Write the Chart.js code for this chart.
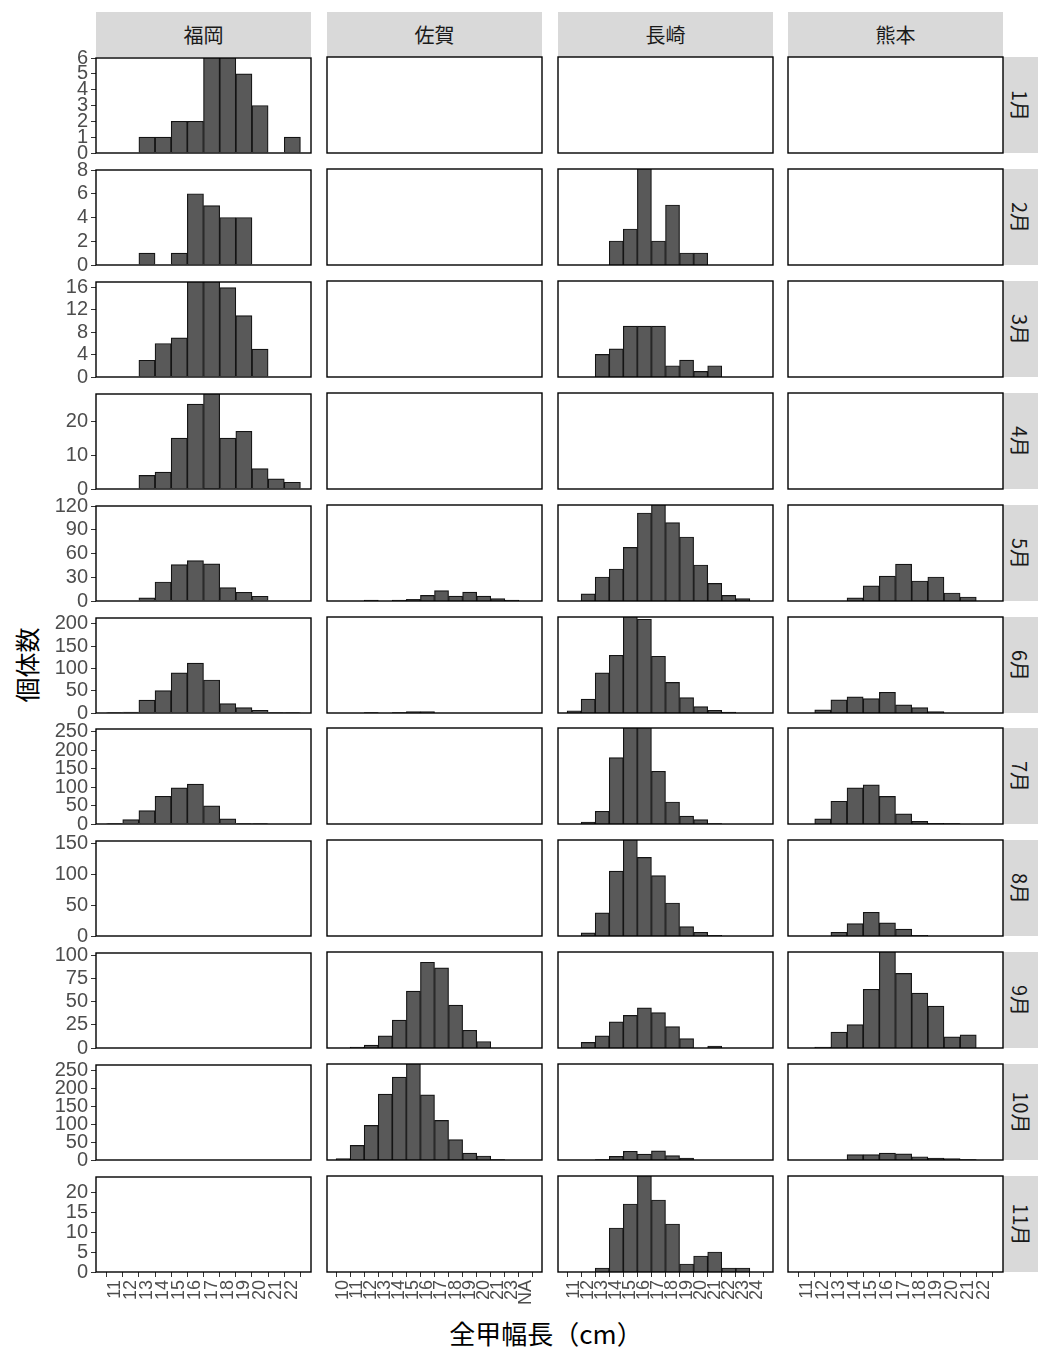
<!DOCTYPE html>
<html lang="ja">
<head>
<meta charset="utf-8">
<title>全甲幅長の月別・県別分布</title>
<script src="https://cdn.jsdelivr.net/npm/chart.js@4.4.1/dist/chart.umd.min.js"></script>
<style>
  html, body { margin: 0; padding: 0; background: #fff; }
  #page { position: relative; width: 1038px; height: 1347px; overflow: hidden;
          font-family: "Noto Sans CJK JP", "Noto Sans", sans-serif; }
  .strip { position: absolute; background: #d9d9d9; color: #1a1a1a; font-size: 20px;
           display: flex; align-items: center; justify-content: center; }
  .strip span { white-space: nowrap; display: inline-block; }
  .strip.right span { transform: rotate(90deg); }
  .title { position: absolute; color: #000; font-size: 26px; white-space: nowrap;
           transform: translate(-50%, -50%); }
  .title.y { font-size: 25px; transform: translate(-50%, -50%) rotate(-90deg); }
  canvas { position: absolute; }
</style>
</head>
<body>
<div id="page"></div>
<script>
// ==========================================
// DATA
// ==========================================
const sites = ['福岡', '佐賀', '長崎', '熊本'];
const months = ['1月', '2月', '3月', '4月', '5月', '6月', '7月', '8月', '9月', '10月', '11月'];

// size classes (x levels) of each prefecture
const fukuokaSizes = ['11', '12', '13', '14', '15', '16', '17', '18', '19', '20', '21', '22'];
const sagaSizes = ['10', '11', '12', '13', '14', '15', '16', '17', '18', '19', '20', '21', '23', 'NA'];
const nagasakiSizes = ['11', '12', '13', '14', '15', '16', '17', '18', '19', '20', '21', '22', '23', '24'];
const kumamotoSizes = ['11', '12', '13', '14', '15', '16', '17', '18', '19', '20', '21', '22'];

// y axis per month row
const yMax = [6, 8, 17, 28, 120, 213, 257, 154, 103, 264, 24];
const yStep = [1, 2, 4, 10, 30, 50, 50, 50, 25, 50, 5];

// counts per month (1月..11月), one value per size class
const fukuokaCounts = [
  [0, 0, 1, 1, 2, 2, 7, 7, 5, 3, 0, 1],
  [0, 0, 1, 0, 1, 6, 5, 4, 4, 0, 0, 0],
  [0, 0, 3, 6, 7, 19, 18, 16, 11, 5, 0, 0],
  [0, 0, 4, 5, 15, 25, 30, 15, 17, 6, 3, 2],
  [0, 0, 4, 24, 46, 51, 47, 17, 11, 6, 0, 0],
  [1, 2, 29, 50, 90, 112, 74, 21, 12, 6, 1, 1],
  [2, 12, 36, 75, 98, 108, 49, 14, 2, 1, 0, 0],
  [], [], [], [],
];
const sagaCounts = [
  [], [], [], [],
  [0, 0, 1, 0, 1, 2, 7, 13, 6, 11, 6, 3, 1, 0],
  [0, 0, 1, 0, 1, 3, 3, 0, 0, 0, 0, 0, 0, 0],
  [], [],
  [0, 1, 3, 13, 30, 61, 92, 86, 46, 19, 7, 0, 0, 0],
  [4, 40, 95, 181, 228, 280, 179, 109, 56, 19, 11, 1, 0, 0],
  [],
];
const nagasakiCounts = [
  [],
  [0, 0, 0, 2, 3, 9, 2, 5, 1, 1, 0, 0, 0, 0],
  [0, 0, 4, 5, 9, 9, 9, 2, 3, 1, 2, 0, 0, 0],
  [],
  [0, 9, 30, 40, 67, 110, 125, 98, 80, 45, 22, 7, 3, 0],
  [5, 31, 89, 128, 230, 208, 126, 68, 34, 14, 6, 2, 0, 0],
  [0, 5, 34, 178, 300, 280, 141, 59, 21, 12, 1, 0, 0, 0],
  [0, 5, 37, 104, 170, 126, 97, 53, 15, 6, 1, 0, 0, 0],
  [0, 6, 13, 28, 35, 43, 38, 23, 10, 0, 2, 0, 0, 0],
  [0, 0, 1, 10, 24, 16, 25, 12, 5, 0, 0, 0, 0, 0],
  [0, 0, 1, 11, 17, 26, 18, 12, 2, 4, 5, 1, 1, 0],
];
const kumamotoCounts = [
  [], [], [], [],
  [0, 0, 0, 4, 19, 31, 46, 25, 30, 10, 5, 0],
  [0, 7, 29, 36, 32, 46, 18, 12, 3, 0, 0, 0],
  [0, 14, 61, 97, 105, 74, 27, 7, 2, 1, 0, 0],
  [0, 0, 6, 20, 38, 21, 11, 1, 0, 0, 0, 0],
  [0, 1, 17, 25, 63, 110, 80, 59, 45, 12, 14, 0],
  [0, 0, 0, 15, 15, 19, 17, 9, 5, 4, 1, 0],
  [],
];

const sizesBySite = [fukuokaSizes, sagaSizes, nagasakiSizes, kumamotoSizes];
const countsBySite = [fukuokaCounts, sagaCounts, nagasakiCounts, kumamotoCounts];

// ==========================================
// LAYOUT
// ==========================================
const colLeft = [96, 327, 558, 788];
const panelW = 215;
const panelH = 96;
const rowTop0 = 57;
const rowPitch = 111.9;
const PL = 60, PR = 30, PT = 14, PB = 70;   // room around each panel for axes

const page = document.getElementById('page');
Chart.defaults.font.family = '"Liberation Sans", Arial, sans-serif';

const panelBorder = {
  id: 'panelBorder',
  afterDatasetsDraw(chart) {
    const { ctx, chartArea: a } = chart;
    ctx.save();
    ctx.strokeStyle = '#000';
    ctx.lineWidth = 1.4;
    ctx.strokeRect(a.left, a.top, a.right - a.left, a.bottom - a.top);
    ctx.restore();
  },
};

function addDiv(cls, text, css) {
  const d = document.createElement('div');
  d.className = cls;
  d.innerHTML = '<span>' + text + '</span>';
  Object.assign(d.style, css);
  page.appendChild(d);
}

// strips
sites.forEach((s, c) => {
  addDiv('strip', s, { left: colLeft[c] + 'px', top: '12px', width: panelW + 'px', height: '45px' });
});
months.forEach((m, r) => {
  const top = Math.round(rowTop0 + rowPitch * r);
  addDiv('strip right', m, { left: (colLeft[3] + panelW) + 'px', top: top + 'px', width: '36px', height: panelH + 'px' });
});

// axis titles
const yt = document.createElement('div');
yt.className = 'title y';
yt.textContent = '個体数';
Object.assign(yt.style, { left: '26px', top: '665px' });
page.appendChild(yt);

const xt = document.createElement('div');
xt.className = 'title';
xt.textContent = '全甲幅長（cm）';
Object.assign(xt.style, { left: '546px', top: '1332px' });
page.appendChild(xt);

// ==========================================
// PANELS
// ==========================================
months.forEach((m, r) => {
  const top = Math.round(rowTop0 + rowPitch * r);
  sites.forEach((s, c) => {
    const sizes = sizesBySite[c];
    const counts = countsBySite[c][r];
    const showY = c === 0;
    const showX = r === months.length - 1;

    const w = panelW + PL + PR;
    const h = panelH + PT + PB;
    const cv = document.createElement('canvas');
    cv.width = w;
    cv.height = h;
    Object.assign(cv.style, {
      left: (colLeft[c] - PL) + 'px', top: (top - PT) + 'px',
      width: w + 'px', height: h + 'px',
    });
    page.appendChild(cv);

    new Chart(cv, {
      type: 'bar',
      data: {
        datasets: [{
          data: counts.map((v, i) => ({ x: i, y: v })),
          backgroundColor: '#595959',
          borderColor: '#141414',
          borderWidth: 1.2,
          barPercentage: 1,
          categoryPercentage: 1,
          clip: 0,
        }],
      },
      options: {
        responsive: false,
        animation: false,
        events: [],
        layout: { padding: { left: showY ? 0 : PL, right: PR, top: PT, bottom: showX ? 0 : PB } },
        plugins: { legend: { display: false }, tooltip: { enabled: false } },
        scales: {
          x: {
            type: 'linear',
            bounds: 'data',
            min: -0.6,
            max: sizes.length - 0.4,
            display: showX,
            afterBuildTicks: sc => { sc.ticks = sizes.map((_, i) => ({ value: i })); },
            afterFit: sc => { if (showX) sc.height = PB; },
            border: { display: false },
            grid: { drawOnChartArea: false, drawTicks: true, tickLength: 5, color: '#333333' },
            ticks: {
              autoSkip: false,
              minRotation: 90,
              maxRotation: 90,
              padding: 3,
              color: '#4d4d4d',
              font: { size: 18 },
              callback: v => sizes[Math.round(v)],
            },
          },
          y: {
            type: 'linear',
            bounds: 'data',
            min: 0,
            max: yMax[r],
            display: showY,
            afterBuildTicks: sc => {
              const t = [];
              for (let v = 0; v <= yMax[r] + 1e-9; v += yStep[r]) t.push({ value: v });
              sc.ticks = t;
            },
            afterFit: sc => { if (showY) sc.width = PL; },
            border: { display: false },
            grid: { drawOnChartArea: false, drawTicks: true, tickLength: 5, color: '#333333' },
            ticks: { autoSkip: false, padding: 3, color: '#4d4d4d', font: { size: 20 } },
          },
        },
      },
      plugins: [panelBorder],
    });
  });
});
</script>
</body>
</html>
